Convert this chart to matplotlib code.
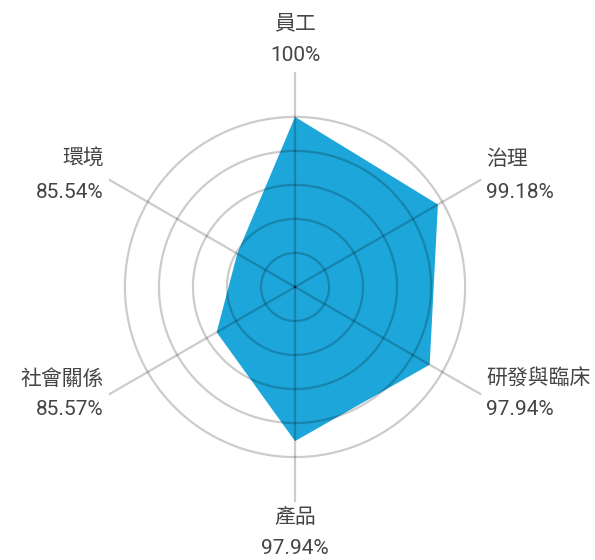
import numpy as np
import matplotlib.pyplot as plt

categories = ['員工', '治理', '研發與臨床', '產品', '社會關係', '環境']
# plotted radii
values = [100, 99.25, 97.85, 97.65, 88.3, 84.8]
value_labels = ['100%', '99.18%', '97.94%', '97.94%', '85.57%', '85.54%']
rings = [80, 85, 90, 95, 100]

r_min, r_spoke = 75, 106.6
fill_color = '#1ca6d9'
text_color = '#444444'
plt.rcParams['font.family'] = ['Roboto', 'Noto Sans CJK TC', 'DejaVu Sans']

angles = np.linspace(0, 2 * np.pi, len(categories), endpoint=False)

fig = plt.figure(figsize=(5.95, 5.6), dpi=100)
ax = fig.add_axes([0.1345, 0.1036, 430 / 595, 430 / 560], projection='polar')
ax.set_theta_zero_location('N')
ax.set_theta_direction(-1)
ax.set_ylim(r_min, r_spoke)
ax.grid(False)
ax.spines['polar'].set_visible(False)
ax.set_xticks([])
ax.set_yticks([])
ax.patch.set_alpha(0)

# data polygon
th = np.append(angles, angles[0])
vv = np.append(values, values[0])
ax.fill(th, vv, color=fill_color, lw=0, zorder=2)

# grid on top, translucent so it darkens over the fill
tt = np.linspace(0, 2 * np.pi, 400)
for r in rings:
    ax.plot(tt, np.full_like(tt, r), color='black', alpha=0.2, lw=1.6, zorder=3)
for a in angles:
    ax.plot([a, a], [r_min, r_spoke], color='black', alpha=0.2, lw=1.6, zorder=3)

# label offsets (pixels) from the spoke ends: name, value, horizontal align
offsets = [
    ((0, 48), (0, 16.5), 'center'),
    ((5, 20.5), (5, -13), 'left'),
    ((5, 15.5), (5, -15), 'left'),
    ((0, -15.5), (0, -46.5), 'center'),
    ((-5, 15.5), (-5, -15), 'right'),
    ((-5, 20.5), (-5, -13), 'right'),
]
for a, name, lab, (o1, o2, ha) in zip(angles, categories, value_labels, offsets):
    ax.annotate(name, xy=(a, r_spoke), xytext=o1, textcoords='offset pixels',
                ha=ha, va='center', fontsize=15, color=text_color,
                annotation_clip=False)
    ax.annotate(lab, xy=(a, r_spoke), xytext=o2, textcoords='offset pixels',
                ha=ha, va='center', fontsize=15, color=text_color,
                annotation_clip=False)

fig.savefig('out.png', dpi=100)
